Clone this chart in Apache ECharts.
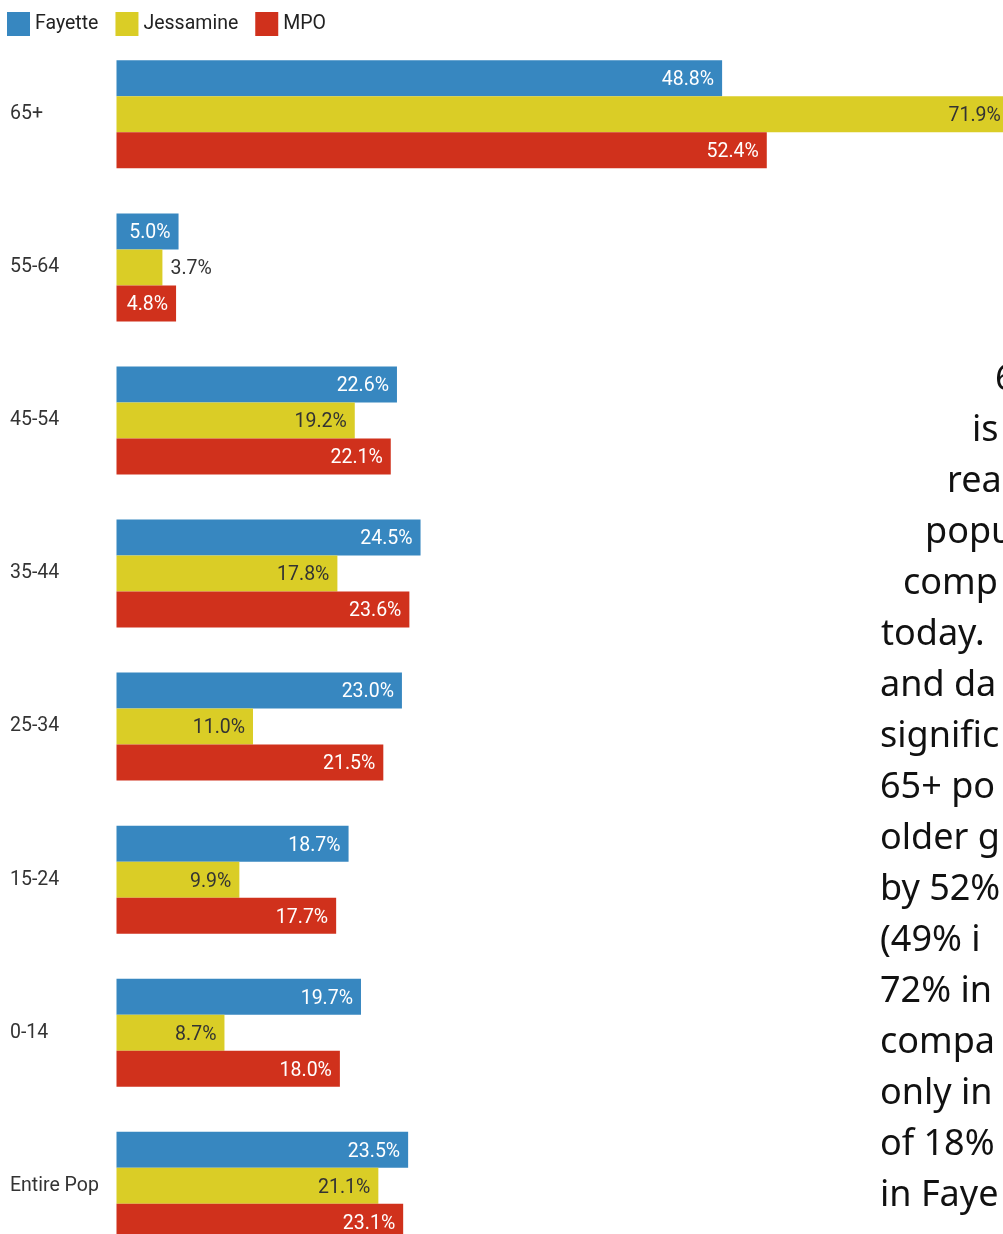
<!DOCTYPE html>
<html><head><meta charset="utf-8">
<script src="https://cdn.jsdelivr.net/npm/echarts@6/dist/echarts.min.js"></script>
<style>
html,body{margin:0;padding:0;background:#fff;overflow:hidden;width:1003px;height:1234px;position:relative;}
#chart{position:absolute;left:0;top:0;width:1120px;height:1300px;}
#note{position:absolute;left:880px;top:351px;font-family:"Noto Sans";font-size:36px;color:#111;pointer-events:none;}
#note div{white-space:nowrap;line-height:51px;height:51px;}
</style></head>
<body>
<div id="chart"></div>
<div id="note"></div>
<script>
const categories = ['65+', '55-64', '45-54', '35-44', '25-34', '15-24', '0-14', 'Entire Pop'];
const seriesNames = ['Fayette', 'Jessamine', 'MPO'];
const fayette = [48.8, 5.0, 22.6, 24.5, 23.0, 18.7, 19.7, 23.5];
const jessamine = [71.9, 3.7, 19.2, 17.8, 11.0, 9.9, 8.7, 21.1];
const mpo = [52.4, 4.8, 22.1, 23.6, 21.5, 17.7, 18.0, 23.1];
const noteLines = ['6', 'is', 'rea', 'popu', 'comp', 'today.', 'and da', 'signific', '65+ po', 'older g', 'by 52%', '(49% i', '72% in', 'compa', 'only in', 'of 18%', 'in Faye'];
const noteIndent = [115, 92, 67, 45, 23, 1, 0, 0, 0, 0, 0, 0, 0, 0, 0, 0, 0];

const note = document.getElementById('note');
noteLines.forEach((t, i) => {
  const d = document.createElement('div');
  d.textContent = t;
  d.style.marginLeft = noteIndent[i] + 'px';
  note.appendChild(d);
});

const colors = ['#3787c0', '#dacd26', '#d0311c'];
const labelColors = ['#ffffff', '#333333', '#ffffff'];
const scale = 12.41;
const xMax = 80;
const fs = 19.5;

function makeSeries(name, values, idx) {
  return {
    name: name,
    type: 'bar',
    barWidth: 36,
    barGap: '0%',
    itemStyle: { color: colors[idx] },
    label: {
      show: true,
      position: 'insideRight',
      distance: 8,
      offset: [0, 2],
      fontFamily: 'Roboto',
      fontSize: fs,
      color: labelColors[idx],
      formatter: p => p.value.toFixed(1) + '%'
    },
    data: values.map(v => v < 4.5
      ? { value: v, label: { position: 'right', color: '#333333', distance: 8 } }
      : v)
  };
}

const chart = echarts.init(document.getElementById('chart'), null, { renderer: 'canvas' });
chart.setOption({
  animation: false,
  color: colors,
  legend: {
    left: 7, top: 12,
    padding: 0,
    icon: 'rect',
    itemWidth: 23, itemHeight: 24, itemGap: 17,
    textStyle: { fontFamily: 'Roboto', fontSize: fs, color: '#222' },
    data: seriesNames
  },
  grid: { left: 116.5, top: 37.8, width: xMax * scale, height: 1224.5, containLabel: false },
  xAxis: { type: 'value', min: 0, max: xMax, show: false, splitLine: { show: false } },
  yAxis: {
    type: 'category',
    data: categories,
    inverse: true,
    axisLine: { show: false },
    axisTick: { show: false },
    axisLabel: { align: 'left', margin: 106.5, padding: [4, 0, 0, 0], fontFamily: 'Roboto', fontSize: fs, color: '#333' }
  },
  series: [
    makeSeries(seriesNames[0], fayette, 0),
    makeSeries(seriesNames[1], jessamine, 1),
    makeSeries(seriesNames[2], mpo, 2)
  ]
});
</script>
</body></html>
